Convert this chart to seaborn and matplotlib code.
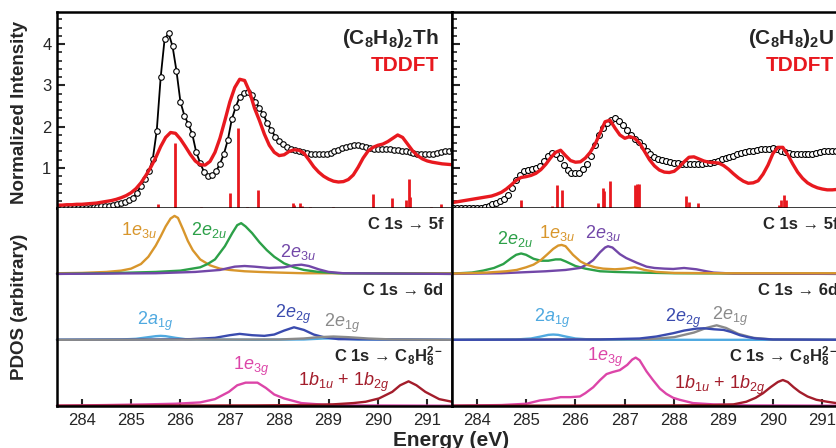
import numpy as np
import seaborn as sns
import matplotlib.pyplot as plt
from matplotlib.ticker import MultipleLocator

# ---------------- data ----------------
# experimental C K-edge spectra, sampled every 0.08 eV from 283.52 eV
exp_energy = np.round(np.arange(283.52, 291.53, 0.08), 2)
th_exp = [0.02, 0.02, 0.02, 0.02, 0.03, 0.03, 0.03, 0.04, 0.04, 0.05,
          0.06, 0.07, 0.08, 0.09, 0.11, 0.13, 0.15, 0.18, 0.22, 0.28,
          0.40, 0.57, 0.74, 0.92, 1.22, 1.90, 3.20, 4.13, 4.26, 3.95,
          3.35, 2.60, 2.27, 2.06, 1.82, 1.38, 1.12, 0.90, 0.81, 0.82,
          0.92, 1.10, 1.34, 1.68, 2.18, 2.48, 2.72, 2.82, 2.85, 2.78,
          2.60, 2.45, 2.30, 2.08, 1.92, 1.76, 1.66, 1.58, 1.52, 1.46,
          1.43, 1.40, 1.38, 1.36, 1.35, 1.34, 1.34, 1.34, 1.35, 1.37,
          1.40, 1.44, 1.48, 1.51, 1.53, 1.55, 1.55, 1.53, 1.51, 1.49,
          1.47, 1.46, 1.46, 1.45, 1.45, 1.44, 1.43, 1.42, 1.40, 1.38,
          1.36, 1.34, 1.33, 1.33, 1.33, 1.34, 1.36, 1.38, 1.40, 1.42, 1.44]
u_exp = [0.02, 0.02, 0.02, 0.02, 0.02, 0.02, 0.03, 0.04, 0.06, 0.09,
         0.12, 0.16, 0.20, 0.25, 0.35, 0.52, 0.70, 0.84, 0.92, 0.95,
         0.97, 1.00, 1.06, 1.16, 1.29, 1.36, 1.33, 1.24, 1.08, 0.96,
         0.89, 0.87, 0.88, 0.97, 1.09, 1.30, 1.56, 1.81, 1.98, 2.09,
         2.17, 2.20, 2.15, 2.05, 1.93, 1.79, 1.70, 1.63, 1.54, 1.42,
         1.33, 1.27, 1.22, 1.19, 1.16, 1.14, 1.12, 1.11, 1.10, 1.10,
         1.09, 1.09, 1.09, 1.10, 1.11, 1.13, 1.15, 1.18, 1.21, 1.24,
         1.27, 1.30, 1.33, 1.36, 1.38, 1.40, 1.42, 1.44, 1.45, 1.46,
         1.47, 1.48, 1.46, 1.42, 1.38, 1.36, 1.35, 1.35, 1.35, 1.34,
         1.34, 1.34, 1.36, 1.39, 1.40, 1.40, 1.40, 1.41, 1.41, 1.41, 1.41]

# TDDFT broadened spectra, every 0.1 eV from 283.5 eV
calc_energy = np.round(np.arange(283.5, 291.51, 0.1), 2)
th_tddft = [0.10, 0.10, 0.11, 0.11, 0.12, 0.12, 0.13, 0.14, 0.15, 0.17,
            0.19, 0.21, 0.24, 0.28, 0.33, 0.40, 0.50, 0.64, 0.82, 1.02,
            1.25, 1.52, 1.74, 1.86, 1.84, 1.70, 1.52, 1.33, 1.17, 1.08,
            1.07, 1.16, 1.38, 1.72, 2.15, 2.60, 2.95, 3.15, 3.12, 2.85,
            2.45, 2.15, 1.82, 1.55, 1.38, 1.30, 1.32, 1.40, 1.44, 1.43,
            1.36, 1.20, 1.03, 0.90, 0.80, 0.73, 0.68, 0.66, 0.67, 0.72,
            0.83, 1.02, 1.24, 1.41, 1.50, 1.55, 1.58, 1.64, 1.72, 1.80,
            1.74, 1.58, 1.42, 1.30, 1.22, 1.17, 1.14, 1.12, 1.10, 1.09, 1.08]
u_tddft = [0.16, 0.18, 0.20, 0.22, 0.24, 0.26, 0.28, 0.30, 0.32, 0.36,
           0.41, 0.49, 0.59, 0.70, 0.77, 0.79, 0.82, 0.87, 0.96, 1.09,
           1.25, 1.38, 1.43, 1.30, 1.18, 1.14, 1.15, 1.24, 1.38, 1.58,
           1.85, 2.12, 2.16, 1.97, 1.80, 1.72, 1.76, 1.72, 1.60, 1.40,
           1.20, 1.05, 0.95, 0.90, 0.89, 0.92, 1.02, 1.15, 1.26, 1.27,
           1.22, 1.17, 1.14, 1.13, 1.12, 1.06, 0.97, 0.86, 0.76, 0.68,
           0.63, 0.64, 0.69, 0.85, 1.07, 1.35, 1.50, 1.50, 1.32, 1.10,
           0.90, 0.75, 0.64, 0.57, 0.52, 0.49, 0.47, 0.47, 0.48, 0.49, 0.50]

# TDDFT transitions (sticks)
th_stick_e = [285.55, 285.88, 286.03, 286.41, 286.64, 287.00, 287.17, 287.35,
              287.58, 287.90, 288.27, 288.31, 288.43, 288.47, 288.62, 288.83,
              289.08, 289.89, 290.28, 290.57, 290.62, 290.65, 291.07, 291.27]
th_stick_h = [0.13, 1.60, 0.04, 0.05, 0.04, 0.40, 1.98, 0.05,
              0.47, 0.04, 0.14, 0.10, 0.14, 0.08, 0.05, 0.04,
              0.05, 0.38, 0.27, 0.23, 0.73, 0.30, 0.05, 0.12]
u_stick_e = [284.50, 284.89, 285.52, 285.63, 285.72, 286.46, 286.55, 286.57,
             286.70, 287.20, 287.24, 287.28, 288.24, 288.30, 288.48, 288.70,
             288.95, 290.12, 290.17, 290.22, 290.26, 290.60]
u_stick_h = [0.03, 0.23, 0.07, 0.59, 0.47, 0.16, 0.52, 0.45,
             0.69, 0.59, 0.61, 0.61, 0.32, 0.18, 0.14, 0.04,
             0.04, 0.10, 0.23, 0.35, 0.23, 0.04]

# PDOS curves, (C8H8)2Th
th_1e3u_e = [283.5, 284.0, 284.5, 284.8, 285.0, 285.2, 285.35, 285.5, 285.6, 285.7, 285.8, 285.88,
             285.95, 286.05, 286.15, 286.25, 286.4, 286.6, 286.8, 287.0, 287.3, 287.6, 288.0, 288.5, 291.5]
th_1e3u = [0.01, 0.015, 0.03, 0.05, 0.08, 0.15, 0.26, 0.43, 0.57, 0.72, 0.84, 0.88,
           0.85, 0.68, 0.50, 0.36, 0.22, 0.13, 0.08, 0.06, 0.04, 0.03, 0.02, 0.01, 0.01]
th_2e2u_e = [283.5, 284.5, 285.5, 286.0, 286.4, 286.55, 286.7, 286.9, 287.05, 287.15, 287.23, 287.32,
             287.45, 287.6, 287.75, 287.9, 288.1, 288.3, 288.5, 288.8, 289.2, 291.5]
th_2e2u = [0.0, 0.01, 0.03, 0.05, 0.10, 0.15, 0.22, 0.42, 0.62, 0.74, 0.77, 0.72,
           0.62, 0.48, 0.36, 0.26, 0.16, 0.10, 0.06, 0.03, 0.01, 0.0]
th_2e3u_e = [283.5, 285.5, 286.3, 286.8, 287.1, 287.3, 287.5, 287.8, 288.1, 288.3, 288.45,
             288.6, 288.8, 289.0, 289.3, 291.5]
th_2e3u = [0.0, 0.01, 0.03, 0.06, 0.11, 0.12, 0.11, 0.09, 0.10, 0.13, 0.14,
           0.12, 0.07, 0.03, 0.01, 0.0]
th_2a1g_e = [283.5, 284.8, 285.1, 285.3, 285.5, 285.6, 285.7, 285.9, 286.1, 286.4, 287.5,
             288.5, 288.9, 289.2, 289.6, 291.5]
th_2a1g = [0.0, 0.005, 0.015, 0.035, 0.055, 0.06, 0.055, 0.03, 0.01, 0.005, 0.0,
           0.005, 0.02, 0.02, 0.005, 0.0]
th_2e2g_e = [283.5, 285.5, 286.2, 286.7, 287.0, 287.2, 287.45, 287.7, 287.9, 288.1, 288.3,
             288.5, 288.7, 288.9, 289.2, 291.5]
th_2e2g = [0.0, 0.005, 0.01, 0.03, 0.07, 0.09, 0.07, 0.06, 0.08, 0.14, 0.19,
           0.15, 0.08, 0.04, 0.01, 0.0]
th_2e1g_e = [283.5, 288.0, 288.5, 288.8, 289.1, 289.4, 289.8, 290.3, 291.5]
th_2e1g = [0.0, 0.005, 0.02, 0.04, 0.05, 0.04, 0.02, 0.005, 0.0]
th_1e3g_e = [283.5, 284.5, 285.3, 285.9, 286.4, 286.7, 286.98, 287.15, 287.32, 287.45, 287.56,
             287.73, 287.9, 288.1, 288.45, 288.9, 289.5, 291.5]
th_1e3g = [0.0, 0.01, 0.02, 0.03, 0.05, 0.10, 0.21, 0.31, 0.35, 0.35, 0.35,
           0.27, 0.17, 0.11, 0.04, 0.015, 0.005, 0.0]
th_1b_e = [283.5, 287.5, 288.5, 289.08, 289.5, 289.75, 290.02, 290.29, 290.45, 290.62,
           290.78, 290.96, 291.24, 291.5]
th_1b = [0.0, 0.005, 0.01, 0.02, 0.04, 0.06, 0.11, 0.21, 0.31, 0.37,
         0.31, 0.21, 0.10, 0.06]

# PDOS curves, (C8H8)2U
u_2e2u_e = [283.5, 283.9, 284.13, 284.35, 284.54, 284.7, 284.8, 284.9, 285.0, 285.15, 285.3,
            285.45, 285.6, 285.7, 285.8, 286.0, 286.2, 286.5, 286.8, 287.3, 288.0, 291.5]
u_2e2u = [0.005, 0.02, 0.05, 0.09, 0.15, 0.24, 0.29, 0.31, 0.29, 0.23, 0.20,
          0.20, 0.22, 0.22, 0.19, 0.12, 0.08, 0.04, 0.03, 0.02, 0.01, 0.0]
u_1e3u_e = [283.5, 284.2, 284.6, 284.81, 285.0, 285.15, 285.3, 285.42, 285.55, 285.65, 285.72,
            285.8, 285.95, 286.1, 286.23, 286.4, 286.56, 286.8, 287.0, 287.2, 287.4, 287.64,
            288.0, 289.0, 291.5]
u_1e3u = [0.005, 0.02, 0.04, 0.06, 0.10, 0.14, 0.21, 0.29, 0.38, 0.43, 0.44,
          0.42, 0.29, 0.19, 0.14, 0.10, 0.08, 0.07, 0.08, 0.10, 0.06, 0.03,
          0.015, 0.01, 0.01]
u_2e3u_e = [283.5, 284.5, 285.4, 285.8, 286.09, 286.25, 286.36, 286.5, 286.6, 286.66, 286.75,
            286.9, 287.03, 287.24, 287.44, 287.6, 287.8, 287.98, 288.2, 288.45, 288.65, 288.8,
            289.2, 291.5]
u_2e3u = [0.0, 0.01, 0.04, 0.06, 0.09, 0.15, 0.21, 0.33, 0.40, 0.42, 0.40,
          0.30, 0.24, 0.17, 0.11, 0.09, 0.08, 0.075, 0.09, 0.07, 0.04, 0.02,
          0.005, 0.0]
u_2a1g_e = [283.5, 284.8, 285.1, 285.3, 285.45, 285.55, 285.65, 285.8, 286.0, 286.3, 287.0, 291.5]
u_2a1g = [0.0, 0.005, 0.02, 0.05, 0.075, 0.08, 0.075, 0.05, 0.02, 0.005, 0.0, 0.0]
u_2e2g_e = [283.5, 286.5, 287.3, 287.64, 287.98, 288.2, 288.45, 288.6, 288.8, 289.0, 289.15,
            289.33, 289.5, 289.66, 290.0, 291.5]
u_2e2g = [0.0, 0.005, 0.02, 0.05, 0.10, 0.14, 0.17, 0.175, 0.16, 0.15, 0.12,
          0.07, 0.04, 0.02, 0.005, 0.0]
u_2e1g_e = [283.5, 287.5, 288.0, 288.4, 288.65, 288.86, 289.05, 289.3, 289.6, 290.0, 291.5]
u_2e1g = [0.0, 0.01, 0.04, 0.11, 0.18, 0.22, 0.18, 0.09, 0.03, 0.005, 0.0]
u_1e3g_e = [283.5, 284.5, 285.01, 285.28, 285.5, 285.7, 285.9, 286.09, 286.2, 286.36, 286.5,
            286.63, 286.75, 286.9, 287.05, 287.15, 287.22, 287.3, 287.44, 287.57, 287.71,
            287.84, 287.98, 288.11, 288.38, 288.8, 289.5, 291.5]
u_1e3g = [0.0, 0.01, 0.03, 0.08, 0.10, 0.13, 0.13, 0.14, 0.19, 0.28, 0.39,
          0.48, 0.51, 0.54, 0.62, 0.70, 0.73, 0.69, 0.52, 0.39, 0.26,
          0.18, 0.12, 0.09, 0.04, 0.02, 0.005, 0.0]
u_1b_e = [283.5, 288.0, 288.8, 289.2, 289.46, 289.65, 289.8, 289.95, 290.1, 290.2, 290.3,
          290.42, 290.54, 290.7, 290.88, 291.1, 291.28, 291.5]
u_1b = [0.0, 0.005, 0.01, 0.02, 0.06, 0.12, 0.19, 0.28, 0.36, 0.39, 0.36,
        0.28, 0.21, 0.14, 0.09, 0.06, 0.04, 0.03]

energy_ticks = [284, 285, 286, 287, 288, 289, 290, 291]

# ---------------- style ----------------
RED = '#E8191F'
ORANGE = '#D8962C'
GREEN = '#2CA048'
PURPLE = '#7247A8'
LIGHTBLUE = '#4FA9E0'
BLUE = '#3A4BAE'
GREY = '#8A8A8A'
PINK = '#DC45A8'
DARKRED = '#A31D2B'

sns.set_theme(style="ticks")
plt.rcParams['font.family'] = ['Liberation Sans', 'DejaVu Sans']
plt.rcParams['mathtext.fontset'] = 'custom'
plt.rcParams['mathtext.rm'] = 'Liberation Sans'
plt.rcParams['mathtext.it'] = 'Liberation Sans:italic'
plt.rcParams['mathtext.bf'] = 'Liberation Sans:bold'

fig = plt.figure(figsize=(8.37, 4.48), dpi=100)
W = 395 / 837
ax_th = fig.add_axes([57 / 837, 0.5357, W, 0.4375])
ax_u = fig.add_axes([452 / 837, 0.5357, W, 0.4375])
ax_thp = fig.add_axes([57 / 837, 0.0944, W, 0.4413])
ax_up = fig.add_axes([452 / 837, 0.0944, W, 0.4413])


def top_panel(ax, exp_vals, calc_vals, st_e, st_h, title, with_line):
    ax.vlines(st_e, 0, st_h, color=RED, lw=2.0)
    if with_line:
        sns.lineplot(x=exp_energy, y=exp_vals, ax=ax, color='black', lw=1.3, sort=False,
                     marker='o', ms=4.0, mfc='white', mec='black', mew=0.8)
    else:
        sns.scatterplot(x=exp_energy, y=exp_vals, ax=ax, s=18, color='white',
                        edgecolor='black', linewidth=0.8)
    sns.lineplot(x=calc_energy, y=calc_vals, ax=ax, color=RED, lw=2.4, sort=False)
    ax.set_xlim(283.5, 291.5)
    ax.set_ylim(0.03, 4.78)
    ax.set_yticks([1, 2, 3, 4])
    ax.yaxis.set_minor_locator(MultipleLocator(0.2))
    ax.tick_params(axis='y', which='major', direction='in', length=6, width=1.5,
                   labelsize=12, pad=4, right=False)
    ax.tick_params(axis='y', which='minor', direction='in', length=3.5, width=1.2, right=False)
    ax.tick_params(axis='x', which='both', bottom=False, labelbottom=False)
    ax.set_xlabel('')
    ax.set_ylabel('')
    for s in ax.spines.values():
        s.set_linewidth(1.8)
        s.set_color('black')
    ax.text(291.24, 4.14, title, ha='right', va='center', fontsize=15, fontweight='bold')
    ax.text(291.24, 3.49, 'TDDFT', ha='right', va='center', fontsize=15,
            fontweight='bold', color=RED)


def pdos_panel(ax, curves, labels):
    for e, v, off, col in curves:
        sns.lineplot(x=e, y=np.array(v) + off, ax=ax, color=col, lw=1.7, sort=False,
                     clip_on=False)
    for txt, x, y, col in labels:
        ax.text(x, y, txt, color=col, ha='center', va='center', fontsize=13)
    ax.text(291.32, 2.75, 'C 1s \u2192 5f', ha='right', va='center', fontsize=12, fontweight='bold')
    ax.text(291.32, 1.75, 'C 1s \u2192 6d', ha='right', va='center', fontsize=12, fontweight='bold')
    ax.text(291.32, 0.74, 'C 1s \u2192 C$_\\mathbf{8}$H$_\\mathbf{8}^\\mathbf{2-}$',
            ha='right', va='center', fontsize=12, fontweight='bold')
    ax.set_xlim(283.5, 291.5)
    ax.set_ylim(0, 3.0)
    ax.set_xticks(energy_ticks)
    ax.set_yticks([])
    ax.tick_params(axis='x', direction='in', length=5, width=1.5, labelsize=12, pad=5, top=False)
    ax.set_xlabel('')
    ax.set_ylabel('')
    for s in ax.spines.values():
        s.set_linewidth(1.8)
        s.set_color('black')
    ax.spines['top'].set_visible(False)


top_panel(ax_th, th_exp, th_tddft, th_stick_e, th_stick_h,
          r'(C$_\mathbf{8}$H$_\mathbf{8}$)$_\mathbf{2}$Th', True)
top_panel(ax_u, u_exp, u_tddft, u_stick_e, u_stick_h,
          r'(C$_\mathbf{8}$H$_\mathbf{8}$)$_\mathbf{2}$U', False)
ax_u.tick_params(axis='y', which='both', labelleft=False)

pdos_panel(ax_thp,
           [(th_1e3u_e, th_1e3u, 2.0, ORANGE), (th_2e2u_e, th_2e2u, 2.0, GREEN),
            (th_2e3u_e, th_2e3u, 2.0, PURPLE),
            (th_2a1g_e, th_2a1g, 1.0, LIGHTBLUE), (th_2e2g_e, th_2e2g, 1.0, BLUE),
            (th_2e1g_e, th_2e1g, 1.0, GREY),
            (th_1e3g_e, th_1e3g, 0.0, PINK), (th_1b_e, th_1b, 0.0, DARKRED)],
           [(r'1$e_{3u}$', 285.16, 2.67, ORANGE), (r'2$e_{2u}$', 286.58, 2.67, GREEN),
            (r'2$e_{3u}$', 288.37, 2.34, PURPLE), (r'2$a_{1g}$', 285.49, 1.28, LIGHTBLUE),
            (r'2$e_{2g}$', 288.27, 1.38, BLUE), (r'2$e_{1g}$', 289.28, 1.25, GREY),
            (r'1$e_{3g}$', 287.43, 0.59, PINK), (r'1$b_{1u}$ + 1$b_{2g}$', 289.31, 0.36, DARKRED)])

pdos_panel(ax_up,
           [(u_2e2u_e, u_2e2u, 2.0, GREEN), (u_2e3u_e, u_2e3u, 2.0, PURPLE),
            (u_1e3u_e, u_1e3u, 2.0, ORANGE),
            (u_2a1g_e, u_2a1g, 1.0, LIGHTBLUE), (u_2e1g_e, u_2e1g, 1.0, GREY),
            (u_2e2g_e, u_2e2g, 1.0, BLUE),
            (u_1e3g_e, u_1e3g, 0.0, PINK), (u_1b_e, u_1b, 0.0, DARKRED)],
           [(r'2$e_{2u}$', 284.77, 2.53, GREEN), (r'1$e_{3u}$', 285.62, 2.62, ORANGE),
            (r'2$e_{3u}$', 286.56, 2.62, PURPLE), (r'2$a_{1g}$', 285.52, 1.33, LIGHTBLUE),
            (r'2$e_{2g}$', 288.18, 1.33, BLUE), (r'2$e_{1g}$', 289.12, 1.35, GREY),
            (r'1$e_{3g}$', 286.60, 0.74, PINK), (r'1$b_{1u}$ + 1$b_{2g}$', 288.92, 0.31, DARKRED)])

fig.text(20 / 837, 1 - 112 / 448, 'Normalized Intensity', rotation=90, ha='center',
         va='center', fontsize=13.5, fontweight='bold')
fig.text(20 / 837, 1 - 307 / 448, 'PDOS (arbitrary)', rotation=90, ha='center',
         va='center', fontsize=13.5, fontweight='bold')
fig.text(451 / 837, 1 - 440 / 448, 'Energy (eV)', ha='center', va='center',
         fontsize=15, fontweight='bold')

fig.savefig('out.png', dpi=100)
